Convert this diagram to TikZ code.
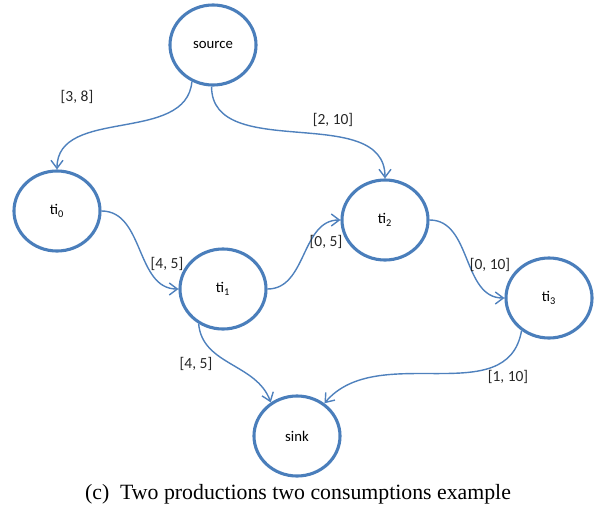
\documentclass[tikz,border=0pt]{standalone}
\usepackage{fontspec}
\setmainfont{Liberation Serif}
\newfontfamily\calfont{Carlito}
\usetikzlibrary{calc,shapes.geometric,positioning,arrows.meta}
\definecolor{nodeblue}{RGB}{74,126,187}
\definecolor{edgeblue}{RGB}{79,129,189}

\begin{document}
\begin{tikzpicture}[
  x=0.025cm, y=-0.025cm,
  tinode/.style={draw=nodeblue, ellipse, line width=2.2pt, fill=white,
                 minimum width=2.15cm, minimum height=2cm,
                 font=\calfont\fontsize{10.5}{12}\selectfont},
  lbl/.style={font=\calfont\fontsize{11}{13}\selectfont, text=black!85},
  ar/.style={-{Straight Barb[length=2mm,width=3mm]}, edgeblue, line width=1pt}
]
\useasboundingbox (0,0) rectangle (597,513);
\node[tinode] (source) at (213,45) {source};
\node[tinode] (ti0) at (57,211) {ti\textsubscript{0}};
\node[tinode] (ti1) at (223,289) {ti\textsubscript{1}};
\node[tinode] (ti2) at (385,220) {ti\textsubscript{2}};
\node[tinode] (ti3) at (549,298) {ti\textsubscript{3}};
\node[tinode] (sink) at (297,436) {sink};
\draw[ar] (source.-120) to[out=-95,in=90] (ti0.north);
\draw[ar] (source.-92) to[out=-90,in=90] (ti2.north);
\draw[ar] (ti0.east) to[out=0,in=180] (ti1.west);
\draw[ar] (ti1.east) to[out=0,in=180] (ti2.west);
\draw[ar] (ti2.east) to[out=0,in=180] (ti3.west);
\draw[ar] (ti1.-125) to[out=-85,in=110] (sink.128);
\draw[ar] (ti3.-130) to[out=-100,in=50] (sink.50);
% interval labels
\node[lbl] (l1) at (77,97) {[3, 8]};
\node[lbl] (l2) at (333,120) {[2, 10]};
\node[lbl] (l3) at (167,264) {[4, 5]};
\node[lbl] (l4) at (326,242) {[0, 5]};
\node[lbl] (l5) at (490,265) {[0, 10]};
\node[lbl] (l6) at (196,364) {[4, 5]};
\node[lbl] (l7) at (508,377) {[1, 10]};
\node[font=\fontsize{15.5}{18}\selectfont] (cap) at (298,494) {(c)\enspace Two productions two consumptions example};
\end{tikzpicture}
\end{document}
